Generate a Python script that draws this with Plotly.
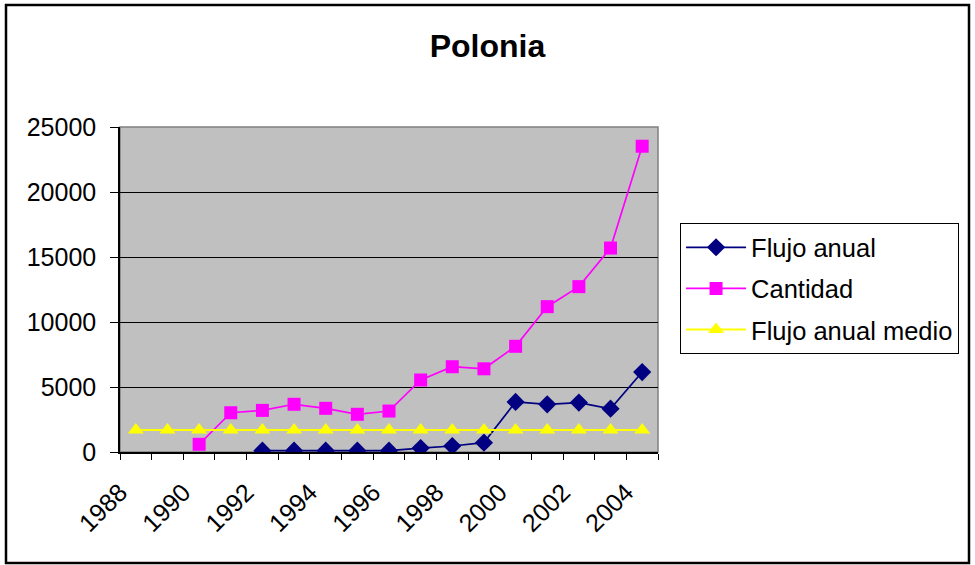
import plotly.graph_objects as go

years = list(range(1988, 2005))
label_years = [1988, 1990, 1992, 1994, 1996, 1998, 2000, 2002, 2004]
flujo_anual = [None, None, None, None, 100, 100, 100, 100, 100, 300, 460, 720, 3850, 3670, 3800, 3330, 6150]
cantidad = [None, None, 590, 3020, 3200, 3670, 3360, 2900, 3150, 5540, 6560, 6400, 8130, 11180, 12720, 15690, 23520]
flujo_medio = [1700, 1700, 1700, 1700, 1700, 1700, 1700, 1700, 1700, 1700, 1700, 1700, 1700, 1700, 1700, 1700, 1700]
y_ticks = [0, 5000, 10000, 15000, 20000, 25000]

FONT = "Liberation Sans, Arial, sans-serif"

fig = go.Figure()
fig.add_trace(go.Scatter(x=years, y=flujo_anual, name="Flujo anual", mode="lines+markers",
                         line=dict(color="#000080", width=1.7),
                         marker=dict(symbol="diamond", size=14, color="#000080"),
                         legendgroup="a"))
fig.add_trace(go.Scatter(x=years, y=cantidad, name="Cantidad", mode="lines+markers",
                         line=dict(color="#FF00FF", width=1.7),
                         marker=dict(symbol="square", size=13, color="#FF00FF"),
                         legendgroup="b"))
fig.add_trace(go.Scatter(x=years, y=flujo_medio, name="Flujo anual medio", mode="lines+markers",
                         line=dict(color="#FFFF00", width=2),
                         marker=dict(symbol="triangle-up", size=14, color="#FFFF00"),
                         legendgroup="c"))

fig.update_layout(
    width=975, height=565,
    margin=dict(l=120, r=317, t=127, b=113),
    paper_bgcolor="white",
    plot_bgcolor="#C0C0C0",
    font=dict(family=FONT, size=25, color="black"),
    title=dict(text="<b>Polonia</b>", x=0.5, xref="container", xanchor="center",
               y=1 - 46 / 565, yref="container", yanchor="middle",
               font=dict(size=32, family=FONT, color="black")),
    showlegend=True,
    legend=dict(x=1.041, xanchor="left", y=0.704, yanchor="top",
                bgcolor="white", bordercolor="black", borderwidth=1,
                font=dict(size=25.5, family=FONT, color="black"),
                traceorder="grouped", tracegroupgap=5, itemwidth=60),
    xaxis=dict(range=[1987.5, 2004.5], tickmode="array",
               tickvals=[v - 0.5 for v in label_years],
               ticktext=[str(v) for v in label_years], tickangle=-45,
               ticks="outside", ticklen=0, ticklabelstandoff=14,
               showgrid=False, zeroline=False,
               showline=True, linecolor="black", linewidth=1.5,
               minor=dict(tick0=1987.5, dtick=1, ticks="outside", ticklen=6,
                          tickcolor="black", tickwidth=1, showgrid=False),
               tickfont=dict(size=25, family=FONT)),
    yaxis=dict(range=[0, 25000], tickmode="array", tickvals=y_ticks, tickformat="d",
               ticks="outside", ticklen=8, tickcolor="black", ticklabelstandoff=9,
               showgrid=True, gridcolor="black", gridwidth=1,
               zeroline=False, showline=True, linecolor="black", linewidth=1.5,
               tickfont=dict(size=25, family=FONT)),
    shapes=[
        dict(type="rect", xref="paper", yref="paper", x0=0, x1=1, y0=0, y1=1,
             line=dict(color="#808080", width=1.5), layer="below"),
        dict(type="rect", xref="paper", yref="paper",
             x0=(6 - 120) / 538, x1=(969 - 120) / 538,
             y0=(452 - 563) / 325, y1=(452 - 5) / 325,
             line=dict(color="black", width=2.5)),
    ],
)

fig.write_html("out.html", config={"displayModeBar": False},
               post_script="document.body.style.margin='0';document.body.style.overflow='hidden';")
